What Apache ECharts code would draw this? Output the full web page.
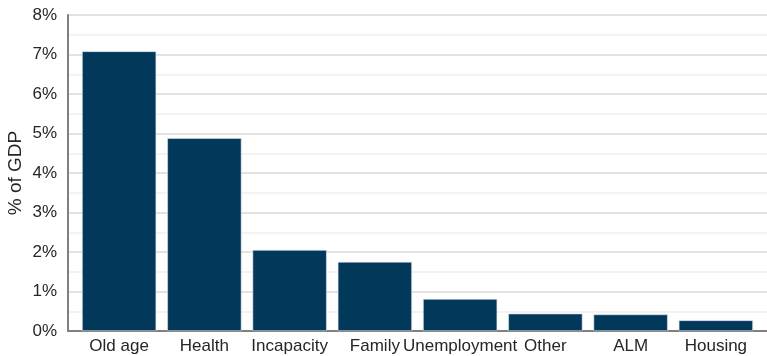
<!DOCTYPE html>
<html>
<head>
<meta charset="utf-8">
<script src="https://cdn.jsdelivr.net/npm/echarts@6/dist/echarts.min.js"></script>
<style>
  html, body { margin: 0; padding: 0; background: #fff; }
  #chart { width: 767px; height: 356px; }
</style>
</head>
<body>
<div id="chart"></div>
<script>
// Social spending by function, % of GDP
const categories = ['Old age', 'Health', 'Incapacity', 'Family', 'Unemployment', 'Other', 'ALM', 'Housing'];
const spending = [7.08, 4.88, 2.05, 1.75, 0.81, 0.44, 0.42, 0.27];
const yTicks = [0, 1, 2, 3, 4, 5, 6, 7, 8];

const FONT = '"Liberation Sans", Arial, sans-serif';
const TEXT = '#262626';
const yMin = yTicks[0], yMax = yTicks[yTicks.length - 1];

const chart = echarts.init(document.getElementById('chart'), null, { renderer: 'canvas' });
chart.setOption({
  animation: false,
  backgroundColor: '#ffffff',
  grid: [
    // frame: axis lines and gridlines across the full width
    { left: 68, right: 0, top: 15, bottom: 25, containLabel: false, outerBoundsMode: 'none' },
    // bars and category labels
    { left: 76.5, right: 8.5, top: 15, bottom: 25, containLabel: false, outerBoundsMode: 'none' }
  ],
  xAxis: [
    {
      gridIndex: 0, type: 'category', data: [''],
      axisLine: { show: true, lineStyle: { color: '#808080', width: 2 } },
      axisTick: { show: false }, axisLabel: { show: false }
    },
    {
      gridIndex: 1, type: 'category', data: categories,
      axisLine: { show: false }, axisTick: { show: false },
      axisLabel: { interval: 0, color: TEXT, fontFamily: FONT, fontSize: 17, margin: 7 }
    }
  ],
  yAxis: [
    {
      gridIndex: 0, type: 'value', min: yMin, max: yMax, interval: 1,
      axisLine: { show: true, lineStyle: { color: '#808080', width: 2 } },
      axisTick: { show: false },
      axisLabel: {
        color: TEXT, fontFamily: FONT, fontSize: 17, margin: 11,
        formatter: v => yTicks.includes(v) ? v + '%' : ''
      },
      splitLine: { show: true, lineStyle: { color: '#d9d9d9', width: 1.5 } },
      minorTick: { show: false, splitNumber: 2 },
      minorSplitLine: { show: true, lineStyle: { color: '#efefef', width: 1.5 } },
      name: '% of GDP', nameLocation: 'middle', nameRotate: 90, nameGap: 43,
      nameMoveOverlap: false,
      nameTextStyle: { color: TEXT, fontFamily: FONT, fontSize: 19 }
    },
    {
      gridIndex: 1, type: 'value', min: yMin, max: yMax, interval: 1,
      show: false
    }
  ],
  series: [{
    type: 'bar',
    xAxisIndex: 1, yAxisIndex: 1,
    data: spending,
    barCategoryGap: '13%',
    itemStyle: { color: '#02385a', borderColor: '#dce6ee', borderWidth: 0.6 }
  }]
});
</script>
</body>
</html>
